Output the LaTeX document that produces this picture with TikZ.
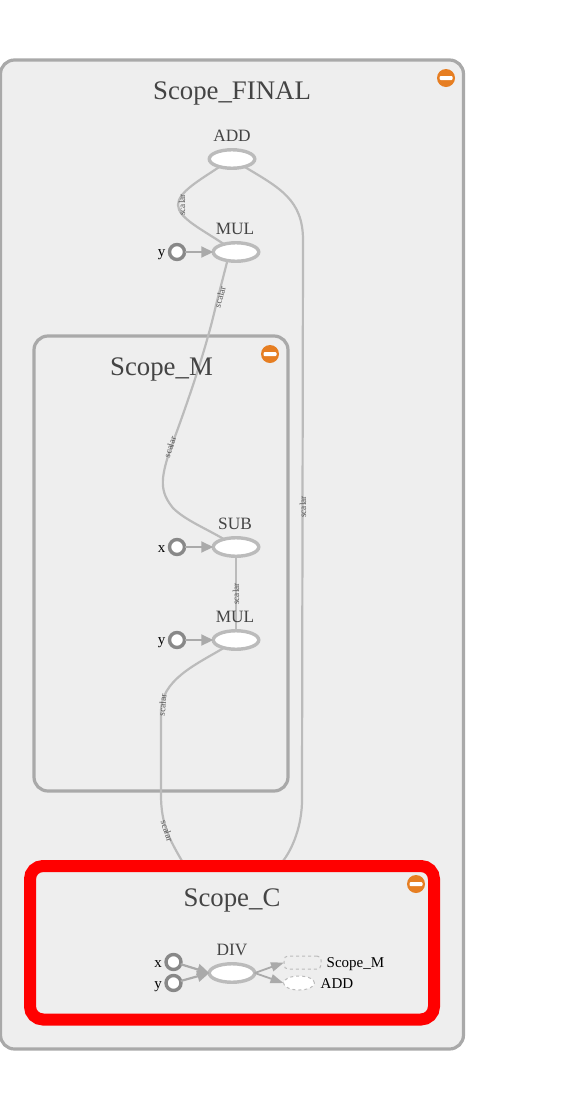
\documentclass[tikz,border=0pt]{standalone}
\usepackage{fontspec}
\setmainfont{Liberation Serif}
\usetikzlibrary{arrows.meta,shapes.geometric}
\definecolor{scopefill}{HTML}{EEEEEE}
\definecolor{scopeline}{HTML}{A9A9A9}
\definecolor{edgeline}{HTML}{BBBBBB}
\definecolor{arrowline}{HTML}{AAAAAA}
\definecolor{inputline}{HTML}{888888}
\definecolor{labeltext}{HTML}{444444}
\definecolor{edgetext}{HTML}{555555}
\definecolor{minusfill}{HTML}{E67E22}
\tikzset{
  scopebox/.style={draw=scopeline,line width=3.2pt,fill=scopefill,rounded corners=14pt,inner sep=0pt,outer sep=0pt},
  opnode/.style={ellipse,draw=edgeline,line width=3.4pt,fill=white,minimum width=45.5pt,minimum height=18.5pt,inner sep=0pt,outer sep=0pt},
  innode/.style={circle,draw=inputline,line width=3.4pt,fill=white,minimum size=15pt,inner sep=0pt,outer sep=0pt},
  flow/.style={draw=edgeline,line width=2.2pt},
  inarrow/.style={draw=arrowline,line width=2.2pt,-{Triangle[length=12pt,width=11pt]}},
  outarrow/.style={draw=arrowline,line width=1.8pt,-{Triangle[length=13pt,width=9pt]}},
  title/.style={font=\fontsize{26.8}{30}\selectfont,text=labeltext,inner sep=0pt},
  oplabel/.style={font=\fontsize{17.3}{20}\selectfont,text=labeltext,inner sep=0pt},
  inlabel/.style={font=\fontsize{15}{18}\selectfont,text=black,inner sep=0pt,anchor=base},
  edgelabel/.style={font=\fontsize{9.3}{10}\selectfont,text=edgetext,inner sep=0pt},
  minusdisc/.style={circle,fill=minusfill,minimum size=18pt,inner sep=0pt},
  minusbar/.style={fill=white,rounded corners=1pt,minimum width=13pt,minimum height=4pt,inner sep=0pt},
  ghostbox/.style={draw=edgeline,dashed,line width=1pt,fill=scopefill,rounded corners=4pt,minimum width=37pt,minimum height=13pt,inner sep=0pt,outer sep=0pt},
  ghostell/.style={ellipse,draw=edgeline,dashed,line width=1pt,fill=white,minimum width=31pt,minimum height=14pt,inner sep=0pt,outer sep=0pt},
}
\begin{document}
\begin{tikzpicture}[x=1pt,y=-1pt]
\useasboundingbox (0,0) rectangle (584,1109);
% scopes
\node[scopebox,minimum width=463pt,minimum height=989pt] (final) at (232,554.5) {};
\node[scopebox,minimum width=254pt,minimum height=455pt] (scopem) at (161,563.5) {};
% nodes
\node[opnode] (add) at (232,159) {};
\node[opnode] (mula) at (236,252) {};
\node[opnode] (sub) at (236,547) {};
\node[opnode] (mulb) at (236,640) {};
\coordinate (cinl) at (182,861);
\coordinate (cinr) at (283,861);
% edges
\draw[flow] (add.212) .. controls (200,180) and (178,192) .. (178,205) .. controls (178,218) and (203,230) .. (mula.147);
\draw[flow] (mula.225) -- (216,305) .. controls (206,350) and (185,410) .. (170,450) .. controls (160,480) and (160,492) .. (173,508) .. controls (185,520) and (205,528) .. (sub.147);
\draw[flow] (sub.south) -- (mulb.north);
\draw[flow] (mulb.213) .. controls (195,665) and (161,680) .. (161,712) -- (161,795) .. controls (161,825) and (170,840) .. (cinl);
\draw[flow] (add.-32) .. controls (280,188) and (303,200) .. (303,240) -- (302,800) .. controls (302,825) and (293,848) .. (cinr);
% edge labels
\node[edgelabel,rotate=90] (l1) at (182,205) {scalar};
\node[edgelabel,rotate=75] (l2) at (220,297) {scalar};
\node[edgelabel,rotate=72] (l3) at (170,447) {scalar};
\node[edgelabel,rotate=90] (l4) at (236,594) {scalar};
\node[edgelabel,rotate=85] (l5) at (162.5,705) {scalar};
\node[edgelabel,rotate=-72] (l6) at (167,831) {scalar};
\node[edgelabel,rotate=90] (l7) at (303,507) {scalar};
% scope C
\node[draw=red,line width=12pt,fill=scopefill,rounded corners=13pt,minimum width=404pt,minimum height=153.5pt,inner sep=0pt,outer sep=0pt] (scopec) at (232,942.75) {};
% titles
\node[title] (tfinal) at (232,93.5) {Scope\_FINAL};
\node[title] (tm) at (161.5,369.5) {Scope\_M};
\node[title] (tc) at (232,900.5) {Scope\_C};
% op labels
\node[oplabel] (ladd) at (232,136) {ADD};
\node[oplabel] (lmula) at (235,229) {MUL};
\node[oplabel] (lsub) at (235,524) {SUB};
\node[oplabel] (lmulb) at (235,617) {MUL};
% inputs
\node[innode] (ya) at (177,252) {};
\node[innode] (xa) at (177,547) {};
\node[innode] (yb) at (177,640) {};
\node[inlabel] (lya) at (161.5,256) {y};
\node[inlabel] (lxa) at (161.5,552) {x};
\node[inlabel] (lyb) at (161.5,644) {y};
\draw[inarrow] (ya) -- (mula);
\draw[inarrow] (xa) -- (sub);
\draw[inarrow] (yb) -- (mulb);
% scope C contents
\node[opnode] (div) at (232,973) {};
\node[oplabel] (ldiv) at (232,950) {DIV};
\node[innode] (xc) at (173.5,962) {};
\node[innode] (yc) at (173.5,983) {};
\node[inlabel] (lxc) at (158,967) {x};
\node[inlabel] (lyc) at (158,988) {y};
\node[ghostbox] (gm) at (302.5,962.5) {};
\node[ghostell] (ga) at (299,983) {};
\node[inlabel,anchor=base west] (lgm) at (326.5,967) {Scope\_M};
\node[inlabel,anchor=base west] (lga) at (320.5,988) {ADD};
\draw[inarrow] (xc) -- (div.west);
\draw[inarrow] (yc) -- (div.west);
\draw[outarrow] (div.east) -- (gm.west);
\draw[outarrow] (div.east) -- (ga.west);
% expand icons
\foreach \nm/\px/\py in {a/446/78,b/270/354,c/416/884}{
  \node[minusdisc] (d\nm) at (\px,\py) {};
  \node[minusbar] (b\nm) at (\px,\py) {};
}
\end{tikzpicture}
\end{document}
